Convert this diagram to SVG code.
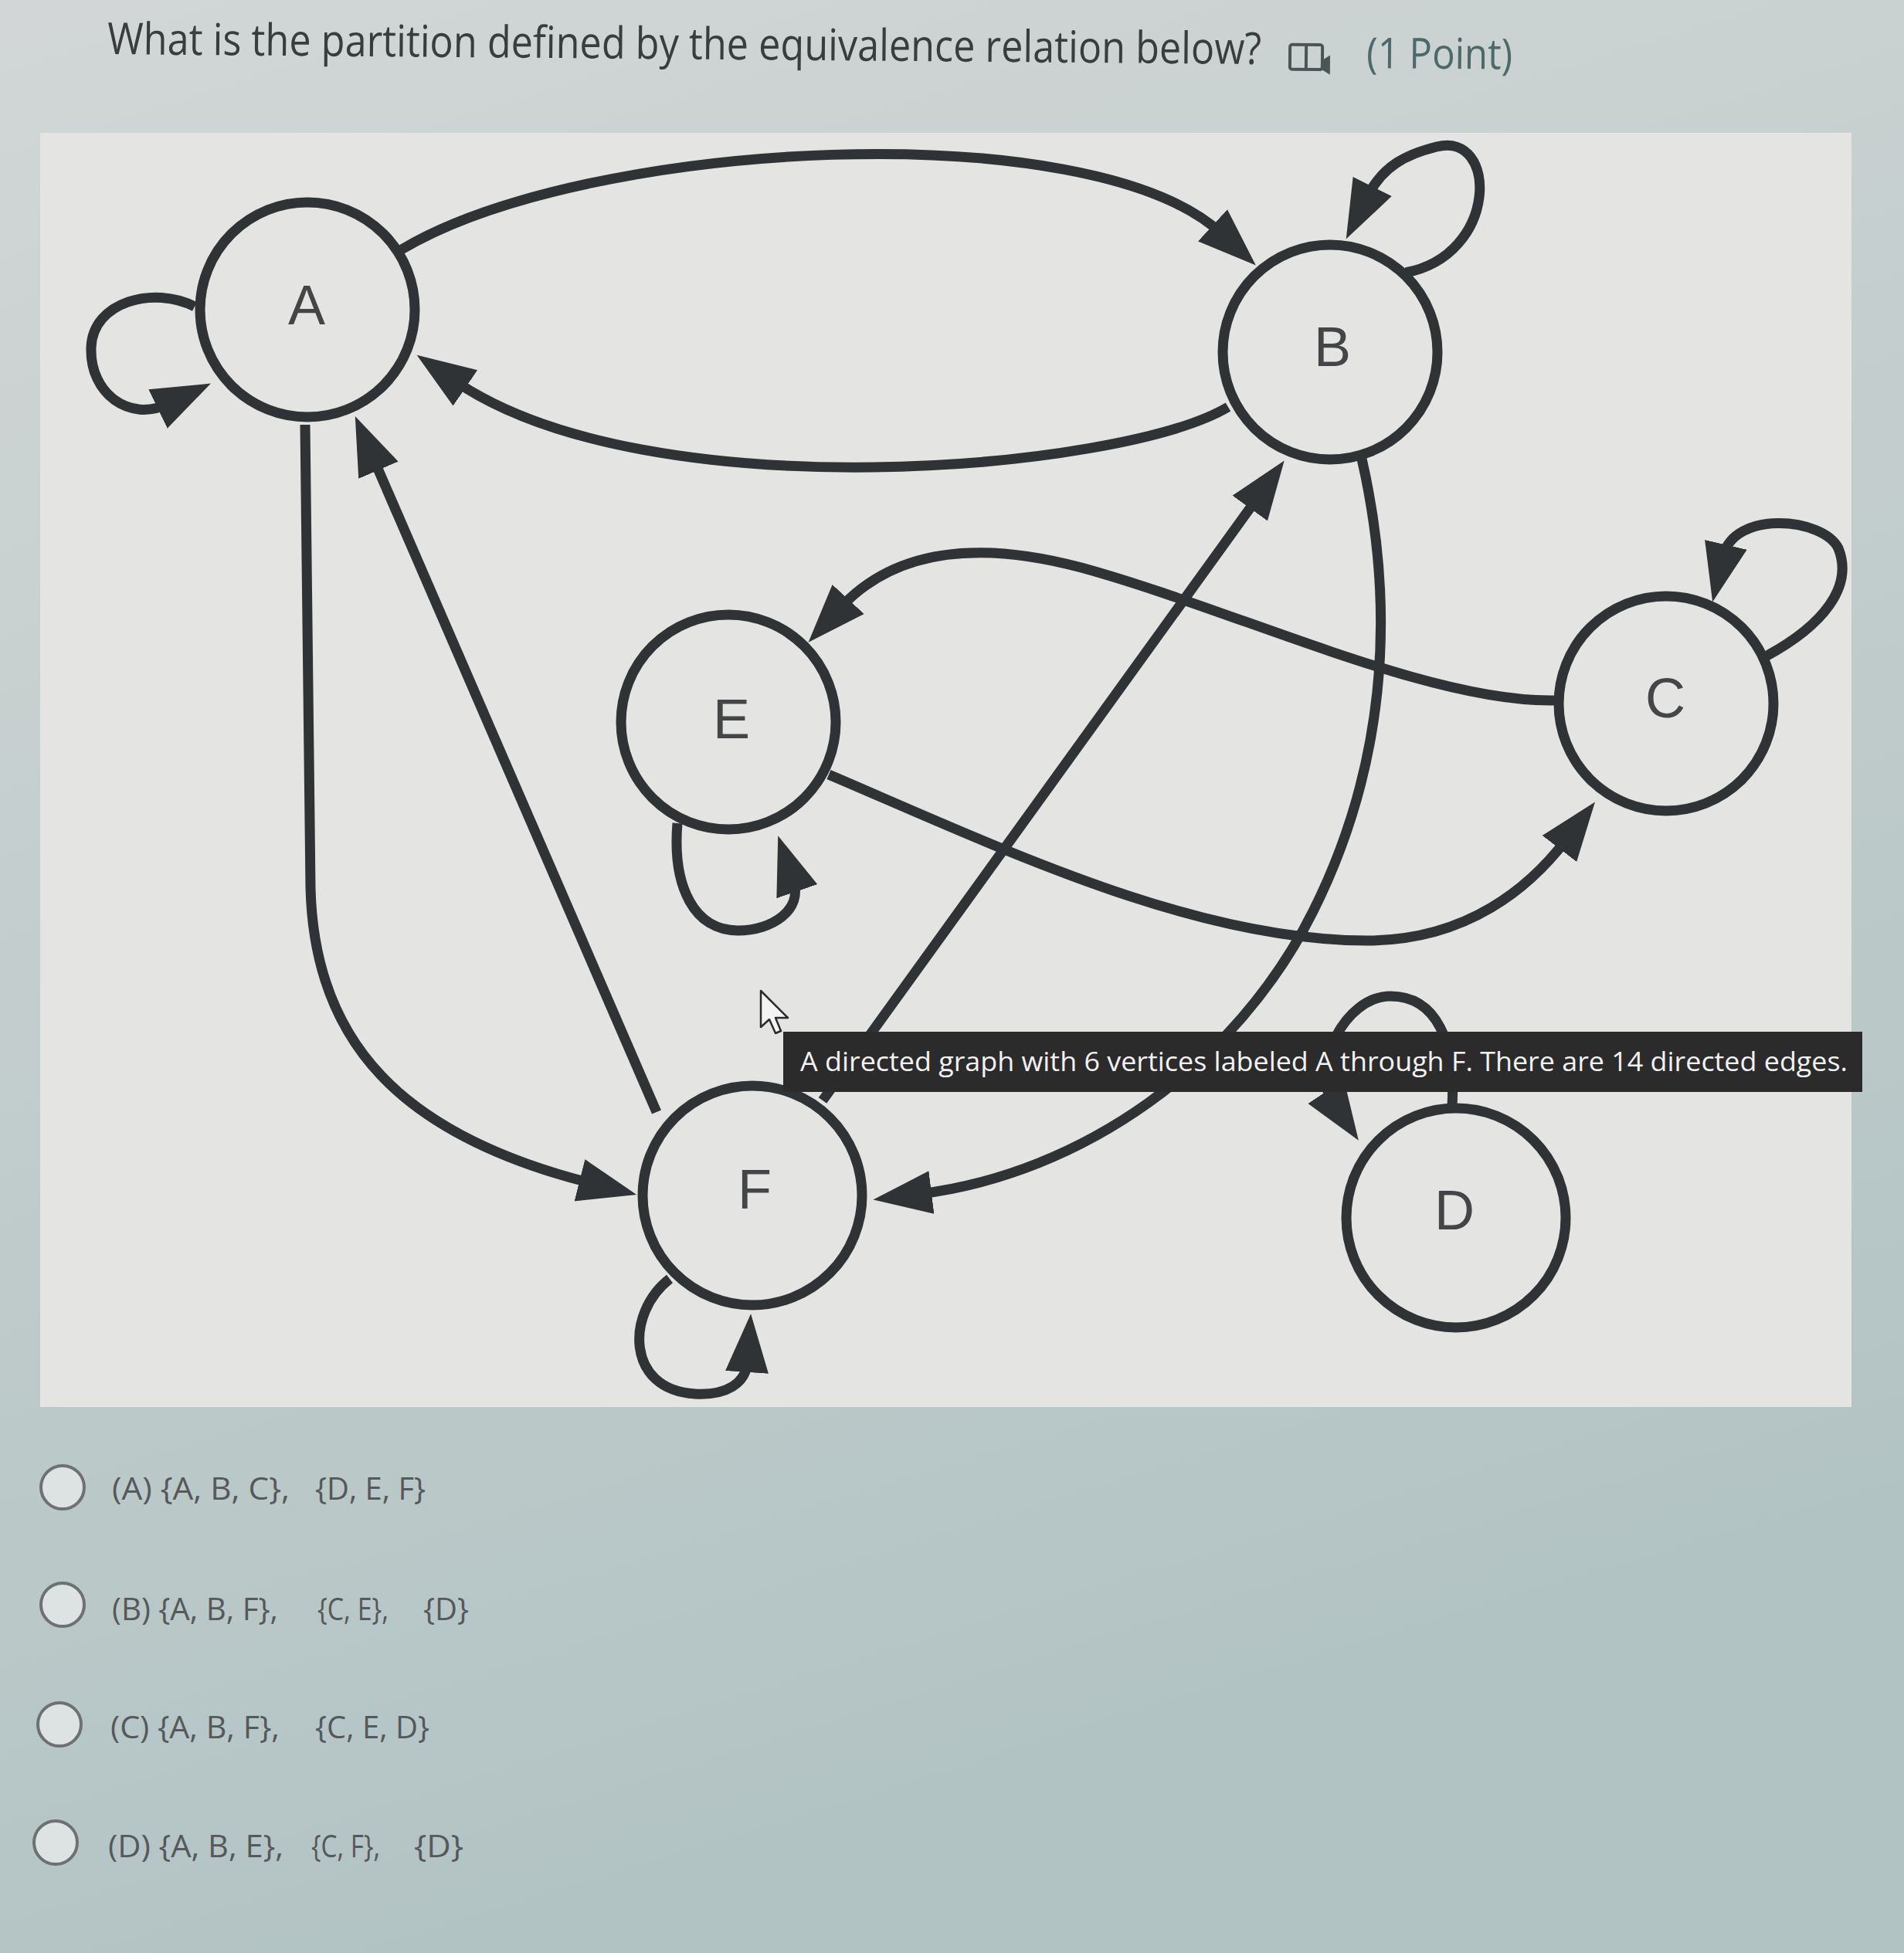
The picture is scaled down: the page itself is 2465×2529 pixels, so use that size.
<svg xmlns="http://www.w3.org/2000/svg" width="2465" height="2529" viewBox="0 0 2465 2529">
<style>
.node circle{fill:#e4e4e2;stroke:#303335;stroke-width:13}
.node text{font-family:"Liberation Sans",Arial,sans-serif;font-size:72px;fill:#434547;text-anchor:middle}
.edge{fill:none;stroke:#303335;stroke-width:13;marker-end:url(#ah)}
.opt{font-family:"Open Sans","Noto Sans",sans-serif;font-size:40px;fill:#55595a}
.radio{fill:#dde2e2;stroke:#6d7171;stroke-width:4}
</style>
<defs>
<linearGradient id="bg" x1="0" y1="0" x2="0.3" y2="1">
<stop offset="0" stop-color="#d2d6d6"/>
<stop offset="1" stop-color="#b2c3c3"/>
</linearGradient>
<marker id="ah" markerUnits="userSpaceOnUse" markerWidth="80" markerHeight="60" viewBox="0 0 80 60" refX="15" refY="29" orient="auto">
<path d="M0,1 L76,29 L0,57 z" fill="#303335"/>
</marker>
</defs>
<rect width="2465" height="2529" fill="url(#bg)"/>
<rect x="52" y="172" width="2345" height="1650" fill="#e4e4e2"/>
<g id="title">
<text x="139" y="70" transform="rotate(0.5 139 70)" font-family="Open Sans, Noto Sans, sans-serif" font-size="57" fill="#3a3d3e" textLength="1494" lengthAdjust="spacingAndGlyphs">What is the partition defined by the equivalence relation below?</text>
<g transform="rotate(0.5 1700 75)" fill="none" stroke="#4a5656" stroke-width="4">
<rect x="1670" y="58" width="42" height="32" rx="3"/>
<line x1="1691" y1="58" x2="1691" y2="90"/>
<path d="M1712 80 l8 -5 v18 l-8 -5 z" fill="#4a5656"/>
</g>
<text x="1769" y="88" transform="rotate(0.5 1769 88)" font-family="Open Sans, Noto Sans, sans-serif" font-size="55" fill="#4d6969" textLength="189" lengthAdjust="spacingAndGlyphs">(1 Point)</text>
</g>
<g id="connectors">
<path id="e-A-A" class="edge" d="M252 397 C200 370 120 390 118 450 C116 510 168 547 218 523"/>
<path id="e-A-B" class="edge" d="M520 323 C760 180 1412 146 1581 302"/>
<path id="e-B-A" class="edge" d="M1590 527 C1450 610 838 663 590 494"/>
<path id="e-B-B" class="edge" d="M1820 353 C1940 330 1940 170 1860 190 C1820 200 1790 215 1770 255"/>
<path id="e-A-F" class="edge" d="M395 550 L402 1150 C407 1350 520 1470 765 1532"/>
<path id="e-F-A" class="edge" d="M850 1440 L484 595"/>
<path id="e-F-B" class="edge" d="M1065 1425 L1627 646"/>
<path id="e-B-F" class="edge" d="M1763 594 C1810 800 1790 1000 1700 1180 C1600 1380 1400 1520 1191 1546"/>
<path id="e-C-E" class="edge" d="M2012 907 C1850 910 1600 790 1400 735 C1250 695 1150 720 1088 787"/>
<path id="e-E-C" class="edge" d="M1073 1003 C1300 1100 1550 1220 1775 1218 C1900 1216 1980 1150 2028 1087"/>
<path id="e-C-C" class="edge" d="M2286 850 C2360 810 2400 760 2380 710 C2360 670 2245 660 2231 720"/>
<path id="e-E-E" class="edge" d="M877 1066 C870 1150 900 1205 955 1205 C1000 1205 1040 1178 1027 1140"/>
<path id="e-F-F" class="edge" d="M867 1656 C810 1700 810 1800 900 1805 C940 1807 966 1792 968 1762"/>
<path id="e-D-D" class="edge" d="M1880 1432 C1885 1350 1860 1290 1800 1290 C1740 1290 1697 1384 1725 1426"/>
</g>
<g id="node-A" class="node"><circle cx="398" cy="401" r="139"/><text x="397" y="420">A</text></g>
<g id="node-B" class="node"><circle cx="1722" cy="456" r="139"/><text x="1725" y="474">B</text></g>
<g id="node-C" class="node"><circle cx="2157" cy="911" r="139"/><text x="2156" y="929">C</text></g>
<g id="node-E" class="node"><circle cx="943" cy="935" r="139"/><text x="947" y="956">E</text></g>
<g id="node-F" class="node"><circle cx="974" cy="1548" r="142"/><text x="977" y="1565">F</text></g>
<g id="node-D" class="node"><circle cx="1885" cy="1577" r="142"/><text x="1883" y="1592">D</text></g>
<g id="tooltip">
<rect x="1014" y="1336" width="1397" height="78" fill="#2b2b2b"/>
<text x="1036" y="1387" font-family="Open Sans, Noto Sans, sans-serif" font-size="34" fill="#f2f2f2" textLength="1356" lengthAdjust="spacingAndGlyphs">A directed graph with 6 vertices labeled A through F. There are 14 directed edges.</text>
</g>
<g id="cursor">
<path d="M985 1283 L985 1330 L996 1320 L1004 1338 L1011 1335 L1004 1318 L1020 1318 Z" fill="#f4f4f4" stroke="#2b2b2b" stroke-width="2.5" stroke-linejoin="round"/>
</g>
<g id="options">
<g id="opt-A"><circle class="radio" cx="81" cy="1926" r="28"/>
<text class="opt" x="145" y="1942" textLength="230" lengthAdjust="spacingAndGlyphs">(A) {A, B, C},</text>
<text class="opt" x="408" y="1942" textLength="143" lengthAdjust="spacingAndGlyphs">{D, E, F}</text></g>
<g id="opt-B"><circle class="radio" cx="81" cy="2078" r="28"/>
<text class="opt" x="145" y="2098" textLength="215" lengthAdjust="spacingAndGlyphs">(B) {A, B, F},</text>
<text class="opt" x="411" y="2098" textLength="92" lengthAdjust="spacingAndGlyphs">{C, E},</text>
<text class="opt" x="548" y="2098" textLength="59" lengthAdjust="spacingAndGlyphs">{D}</text></g>
<g id="opt-C"><circle class="radio" cx="77" cy="2233" r="28"/>
<text class="opt" x="143" y="2251" textLength="219" lengthAdjust="spacingAndGlyphs">(C) {A, B, F},</text>
<text class="opt" x="408" y="2251" textLength="148" lengthAdjust="spacingAndGlyphs">{C, E, D}</text></g>
<g id="opt-D"><circle class="radio" cx="72" cy="2386" r="28"/>
<text class="opt" x="140" y="2405" textLength="227" lengthAdjust="spacingAndGlyphs">(D) {A, B, E},</text>
<text class="opt" x="403" y="2405" textLength="89" lengthAdjust="spacingAndGlyphs">{C, F},</text>
<text class="opt" x="536" y="2405" textLength="64" lengthAdjust="spacingAndGlyphs">{D}</text></g>
</g>
</svg>
